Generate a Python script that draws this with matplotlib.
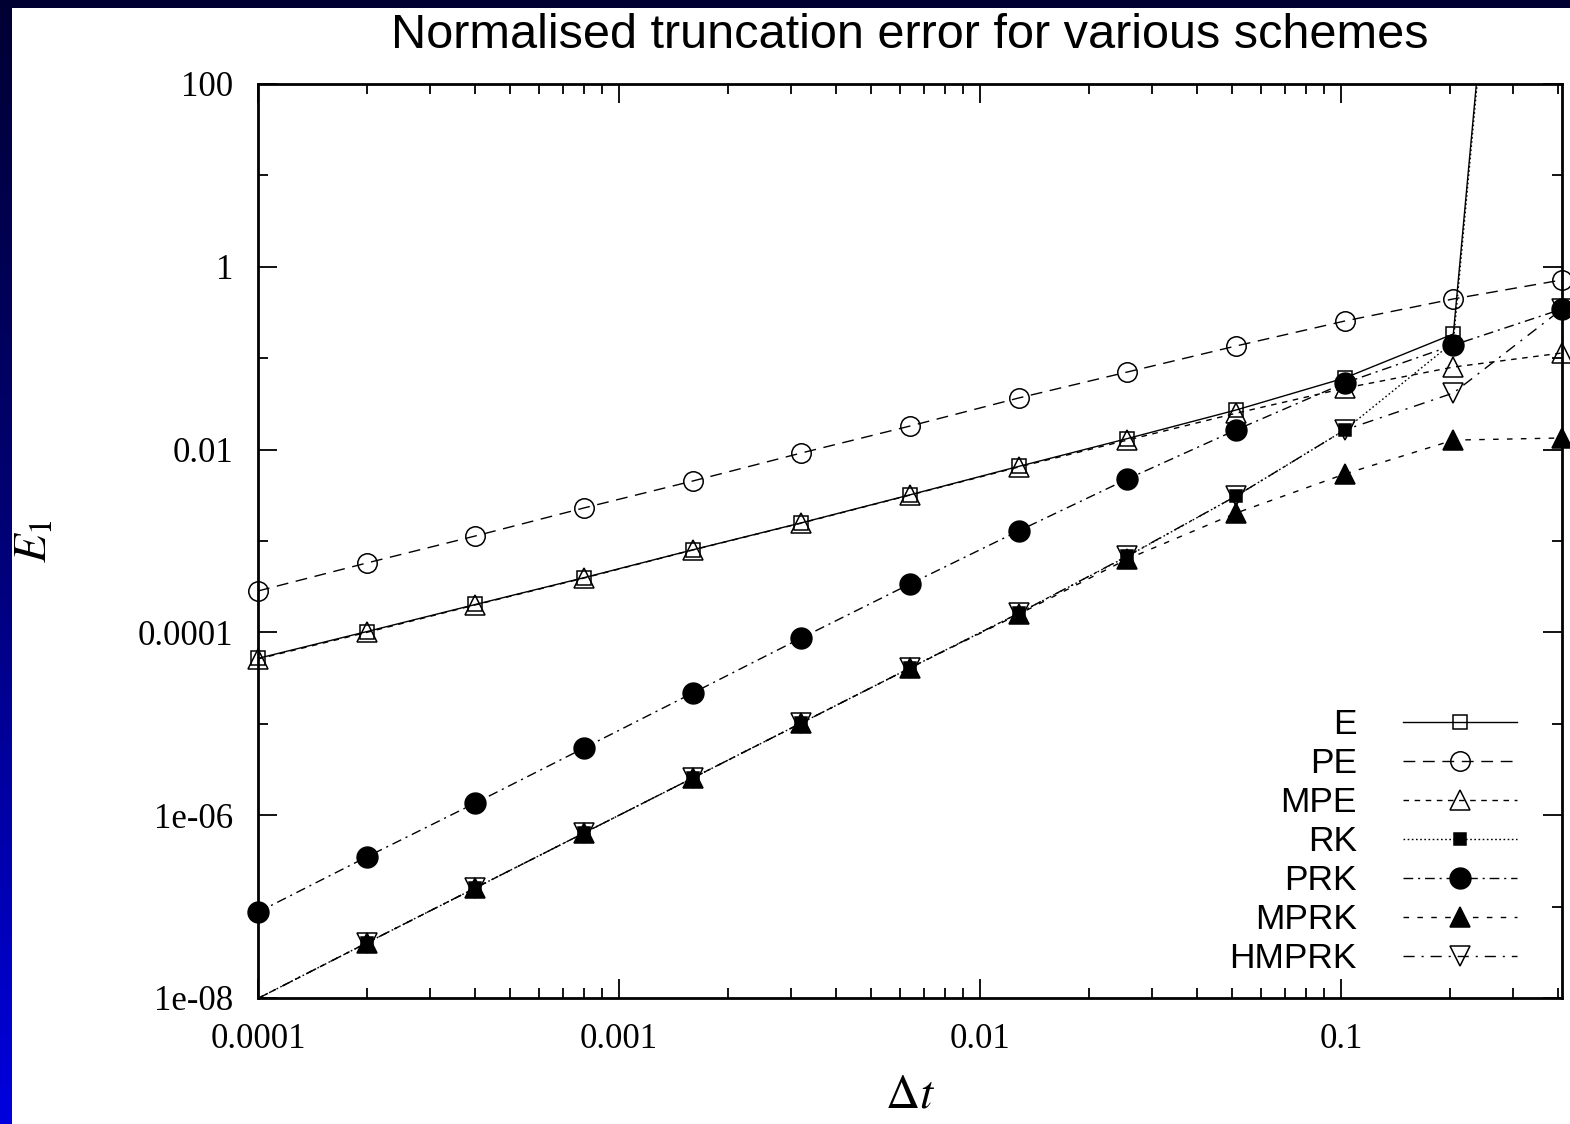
import numpy as np
import matplotlib
matplotlib.use('Agg')
import matplotlib.pyplot as plt
from matplotlib.lines import Line2D
from matplotlib.ticker import FixedLocator, FixedFormatter, NullFormatter

plt.rcParams['mathtext.fontset'] = 'stix'

# time steps (doubling each time)
dt = [0.0001, 0.0002, 0.0004, 0.0008, 0.0016, 0.0032, 0.0064,
      0.0128, 0.0256, 0.0512, 0.1024, 0.2048, 0.4096]

# normalised truncation error E_1 for each scheme
err_E = [5.2e-5, 1.02e-4, 2.02e-4, 3.97e-4, 8.0e-4, 1.58e-3, 3.2e-3,
         6.55e-3, 1.32e-2, 2.71e-2, 6.07e-2, 0.184, 1.5e12]
err_PE = [2.84e-4, 5.74e-4, 1.135e-3, 2.30e-3, 4.53e-3, 9.18e-3, 1.81e-2,
          3.67e-2, 7.06e-2, 0.136, 0.255, 0.445, 0.718]
err_MPE = [5.12e-5, 1.0e-4, 2.0e-4, 3.93e-4, 7.97e-4, 1.57e-3, 3.18e-3,
           6.45e-3, 1.27e-2, 2.5e-2, 4.7e-2, 8.0e-2, 0.114]
err_RK = [9.9e-9, 4.0e-8, 1.6e-7, 6.39e-7, 2.55e-6, 1.02e-5, 4.08e-5,
          1.62e-4, 6.8e-4, 3.1e-3, 1.64e-2, 0.15, 1.2e12]
err_PRK = [8.7e-8, 3.49e-7, 1.36e-6, 5.43e-6, 2.17e-5, 8.69e-5, 3.39e-4,
           1.29e-3, 4.76e-3, 1.64e-2, 5.36e-2, 0.139, 0.345]
err_MPRK = [9.9e-9, 4.0e-8, 1.6e-7, 6.39e-7, 2.55e-6, 1.02e-5, 4.08e-5,
            1.58e-4, 6.35e-4, 2.02e-3, 5.4e-3, 1.27e-2, 1.34e-2]
err_HMPRK = [9.9e-9, 4.0e-8, 1.6e-7, 6.39e-7, 2.55e-6, 1.02e-5, 4.08e-5,
             1.62e-4, 6.86e-4, 3.1e-3, 1.64e-2, 4.16e-2, 0.345]

names = ['E', 'PE', 'MPE', 'RK', 'PRK', 'MPRK', 'HMPRK']
errors = [err_E, err_PE, err_MPE, err_RK, err_PRK, err_MPRK, err_HMPRK]

# line / marker styles (gnuplot look)
styles = [
    dict(dashes=(), marker='s', ms=10, mfc='none'),
    dict(dashes=(8.5, 5.5), marker='o', ms=14, mfc='none'),
    dict(dashes=(4, 4), marker='^', ms=15, mfc='none'),
    dict(dashes=(1.2, 1.8), marker='s', ms=8, mfc='black'),
    dict(dashes=(7, 3.5, 1.5, 3.5), marker='o', ms=15, mfc='black'),
    dict(dashes=(4, 6), marker='^', ms=15, mfc='black'),
    dict(dashes=(8, 5, 1.5, 5), marker='v', ms=14, mfc='none'),
]

xticks = [1e-4, 1e-3, 1e-2, 1e-1]
xtick_labels = ['0.0001', '0.001', '0.01', '0.1']
yticks = [1e-8, 1e-6, 1e-4, 1e-2, 1, 100]
ytick_labels = ['1e-08', '1e-06', '0.0001', '0.01', '1', '100']
yminor = [1e-7, 1e-5, 1e-3, 1e-1, 10]

fig = plt.figure(figsize=(15.7, 11.24), dpi=100)
fig.patch.set_facecolor('white')

# blue border on the left (gradient) and top
bax = fig.add_axes([0, 0, 12 / 1570, 1])
grad = np.linspace(0, 1, 256).reshape(-1, 1)
bax.imshow(grad, aspect='auto', origin='lower',
           cmap=matplotlib.colors.LinearSegmentedColormap.from_list(
               'bl', ['#0000de', '#00007a', '#000033']),
           extent=[0, 1, 0, 1])
bax.axis('off')
tax = fig.add_axes([0, 1 - 8 / 1124, 1, 8 / 1124])
tax.set_facecolor('#000033')
tax.set_xticks([])
tax.set_yticks([])
for s in tax.spines.values():
    s.set_visible(False)

ax = fig.add_axes([258 / 1570, 126 / 1124, 1304 / 1570, 914 / 1124])
ax.set_xscale('log')
ax.set_yscale('log')
ax.set_xlim(1e-4, 0.4096)
ax.set_ylim(1e-8, 100)

x = np.array(dt)
handles = []
for name, err, st in zip(names, errors, styles):
    y = np.array(err)
    ls = '-' if len(st['dashes']) == 0 else (0, st['dashes'])
    ax.plot(x, y, color='black', lw=1.0, linestyle=ls, zorder=2)
    inside = (y >= 1e-8) & (y <= 100)
    ax.plot(x[inside], y[inside], linestyle='none', marker=st['marker'],
            ms=st['ms'], mfc=st['mfc'], mec='black', mew=1.1,
            clip_on=False, zorder=3)
    handles.append(Line2D([], [], color='black', lw=1.0, linestyle=ls,
                          marker=st['marker'], ms=st['ms'], mfc=st['mfc'],
                          mec='black', mew=1.1, label=name))

ax.xaxis.set_major_locator(FixedLocator(xticks))
ax.xaxis.set_major_formatter(FixedFormatter(xtick_labels))
ax.xaxis.set_minor_formatter(NullFormatter())
ax.yaxis.set_major_locator(FixedLocator(yticks))
ax.yaxis.set_major_formatter(FixedFormatter(ytick_labels))
ax.yaxis.set_minor_locator(FixedLocator(yminor))
ax.yaxis.set_minor_formatter(NullFormatter())

ax.tick_params(which='both', direction='in', top=True, right=True,
               width=1.3, colors='black')
ax.tick_params(which='major', length=14, pad=18, labelsize=25)
ax.tick_params(which='minor', length=7)
for lab in ax.get_xticklabels() + ax.get_yticklabels():
    lab.set_family('Liberation Serif')
for s in ax.spines.values():
    s.set_linewidth(2.0)

ax.set_title('Normalised truncation error for various schemes',
             fontsize=35, family='Liberation Sans', pad=26)
ax.set_xlabel(r'$\Delta t$', fontsize=34, labelpad=12)
ax.set_ylabel(r'$E_1$', fontsize=34, labelpad=58)

leg = ax.legend(handles=handles, loc='lower right',
                bbox_to_anchor=(0.9655, 0.025), frameon=False,
                markerfirst=False, handlelength=3.22, handletextpad=1.3,
                labelspacing=0.17, borderpad=0, borderaxespad=0,
                prop={'family': 'Liberation Sans', 'size': 25.5})

fig.savefig('out.png', dpi=100, facecolor='white')
